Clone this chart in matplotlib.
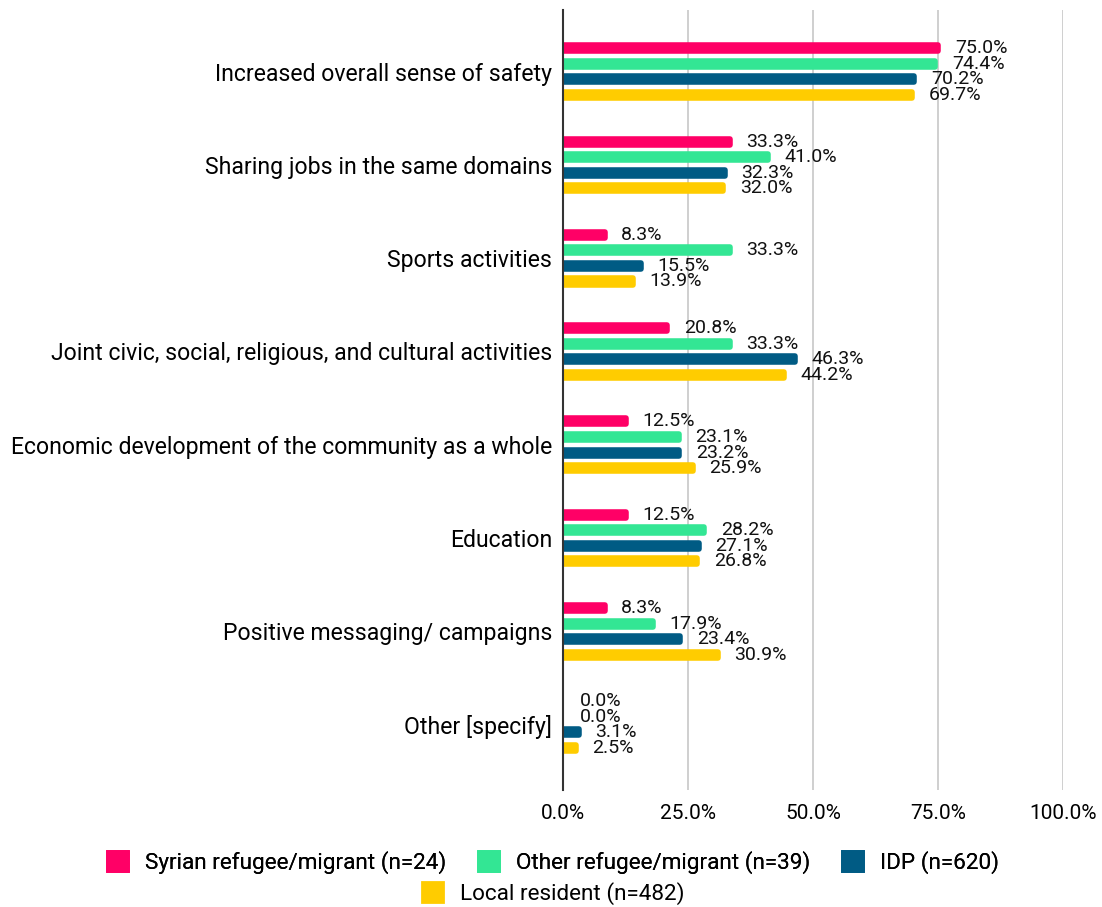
import numpy as np
import matplotlib.pyplot as plt
from matplotlib.patches import Patch

plt.rcParams['font.family'] = ['Roboto', 'DejaVu Sans']

categories = [
    'Increased overall sense of safety',
    'Sharing jobs in the same domains',
    'Sports activities',
    'Joint civic, social, religious, and cultural activities',
    'Economic development of the community as a whole',
    'Education',
    'Positive messaging/ campaigns',
    'Other [specify]',
]
groups = ['Syrian refugee/migrant (n=24)', 'Other refugee/migrant (n=39)',
          'IDP (n=620)', 'Local resident (n=482)']
syrian = [75.0, 33.3, 8.3, 20.8, 12.5, 12.5, 8.3, 0.0]
other = [74.4, 41.0, 33.3, 33.3, 23.1, 28.2, 17.9, 0.0]
idp = [70.2, 32.3, 15.5, 46.3, 23.2, 27.1, 23.4, 3.1]
local = [69.7, 32.0, 13.9, 44.2, 25.9, 26.8, 30.9, 2.5]
colors = ['#ff0066', '#33e694', '#005b84', '#ffcc00']

fig = plt.figure(figsize=(11.02, 9.07), dpi=100)
ax = fig.add_axes([0.511, 0.129, 0.4537, 0.86])

y = np.arange(len(categories))
step = 1 / 6
for i, (vals, c) in enumerate(zip([syrian, other, idp, local], colors)):
    pos = y + (i - 1.5) * step
    # thick edge with round joins gives the bars soft ends (none for empty bars)
    lws = [4 if v > 0 else 0 for v in vals]
    ax.barh(pos, vals, height=0.065, color=c, edgecolor=c, linewidth=lws,
            joinstyle='round', zorder=3)
    for p, v in zip(pos, vals):
        ax.annotate(f'{v:.1f}%', (v, p), xytext=(12, 0), textcoords='offset points',
                    va='center', ha='left', fontsize=14, color='#111111', zorder=4)

ax.set_xlim(0, 100)
ax.set_ylim(len(categories) - 0.3, -0.66)
ax.set_xticks([0, 25, 50, 75, 100])
ax.set_xticklabels(['0.0%', '25.0%', '50.0%', '75.0%', '100.0%'], fontsize=15)
ax.set_yticks(y)
ax.set_yticklabels(categories, fontsize=16.6)
ax.tick_params(axis='x', length=0, pad=10)
ax.tick_params(axis='y', length=0, pad=8)
ax.grid(axis='x', color='#cccccc', linewidth=1.3, zorder=0)
for s in ['top', 'right', 'bottom']:
    ax.spines[s].set_visible(False)
ax.spines['left'].set_color('#333333')
ax.spines['left'].set_linewidth(1.5)
ax.spines['left'].set_zorder(5)

handles = [Patch(facecolor=c, edgecolor=c, label=g, joinstyle='round', linewidth=2)
           for g, c in zip(groups, colors)]
opts = dict(frameon=False, fontsize=16.2, handlelength=0.95, handleheight=1.0,
            handletextpad=0.75, columnspacing=1.4)
leg1 = fig.legend(handles=handles[:3], loc='center', bbox_to_anchor=(0.502, 0.049),
                  ncol=3, **opts)
fig.legend(handles=handles[3:], loc='center', bbox_to_anchor=(0.502, 0.015),
           ncol=1, **opts)
fig.add_artist(leg1)

fig.savefig('out.png', dpi=100)
